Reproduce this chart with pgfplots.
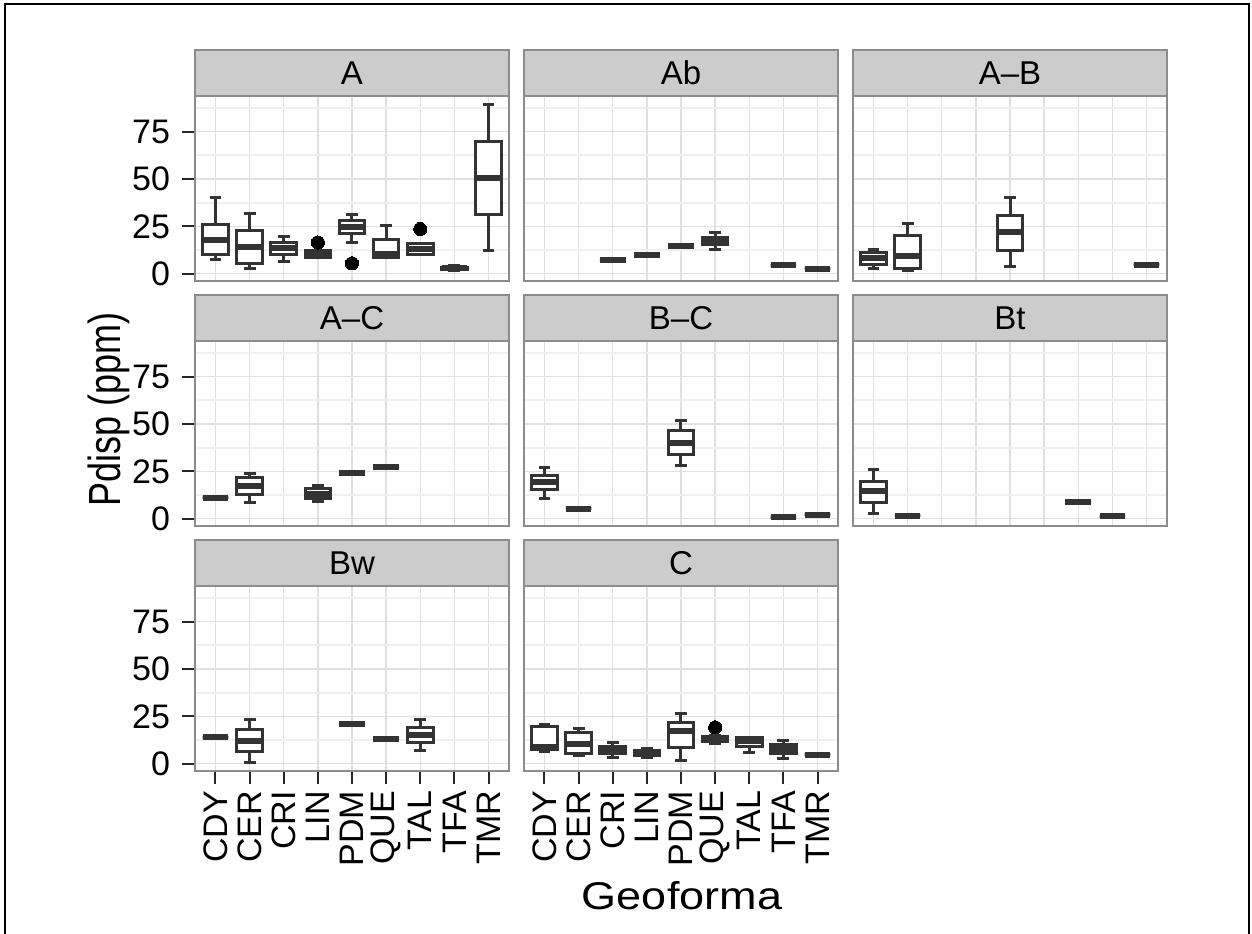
\documentclass[border=0pt]{standalone}
\usepackage{fontspec}
\setmainfont{Liberation Sans}
\usepackage{graphicx}
\usepackage{pgfplots}
\pgfplotsset{compat=1.18}
\usepgfplotslibrary{statistics}
\definecolor{stripfill}{HTML}{CCCCCC}
\definecolor{panelborder}{HTML}{8C8C8C}
\definecolor{gridmaj}{HTML}{E0E0E0}
\definecolor{gridmin}{HTML}{F0F0F0}
\definecolor{boxc}{HTML}{333333}
\newcommand\ticksize{\fontsize{17}{20}\selectfont}
\newcommand\stripsize{\fontsize{16.5}{19}\selectfont}
\newcommand\titlesize{\fontsize{22.5}{26}\selectfont}
\pgfplotsset{
  every axis title shift=0pt,
  panel/.style={
    scale only axis, width=157pt, height=92.15pt,
    xmin=0.4, xmax=9.6, ymin=-3.8, ymax=93.5,
    xtick={1,2,3,4,5,6,7,8,9},
    xticklabels={CDY,CER,CRI,LIN,PDM,QUE,TAL,TFA,TMR},
    ytick={0,25,50,75}, minor ytick={12.5,37.5,62.5,87.5},
    xtick pos=bottom, ytick pos=left,
    xmajorgrids, ymajorgrids, yminorgrids,
    major grid style={color=gridmaj, line width=0.7pt},
    minor grid style={color=gridmin, line width=0.9pt},
    axis line style={color=panelborder, line width=0.75pt},
    tick align=outside, major tick length=6.5pt, minor tick length=0pt,
    tick style={color=black!85, line width=1pt},
    ticklabel style={font=\ticksize, text=black},
    xticklabel style={rotate=90, anchor=east},
    yticklabel style={xshift=-2.5pt},
    /pgf/number format/assume math mode=true,
    title style={at={(0.5,1)}, anchor=south, draw=panelborder, line width=0.75pt,
      fill=stripfill, minimum width=157pt, minimum height=23pt, inner sep=0pt,
      font=\stripsize},
    boxplot/draw direction=y,
    boxplot/box extend=0.75,
    boxplot/whisker extend=0.35,
    boxplot/every box/.style={draw=boxc, line width=1.5pt, fill=white},
    boxplot/every whisker/.style={draw=boxc, line width=1.5pt},
    boxplot/every median/.style={draw=boxc, line width=3pt},
  },
  noxlab/.style={xticklabels={}, xtick style={draw=none}},
  noylab/.style={yticklabels={}, ytick style={draw=none}},
  bpst/.style={mark=*, mark size=3.3pt, mark options={fill=black, draw=black, line width=0pt}},
}
% box: position, lower whisker, lower quartile, median, upper quartile, upper whisker
\newcommand\bp[6]{\addplot[bpst, boxplot prepared={draw position=#1, lower whisker=#2,
  lower quartile=#3, median=#4, upper quartile=#5, upper whisker=#6}] coordinates {};}
\newcommand\bpo[7]{\addplot[bpst, boxplot prepared={draw position=#1, lower whisker=#2,
  lower quartile=#3, median=#4, upper quartile=#5, upper whisker=#6}] coordinates {(#1,#7)};}
\begin{document}
\begin{tikzpicture}
\useasboundingbox (0pt,0pt) rectangle (626pt,-466.5pt);
\draw[line width=1pt, black] (2.5pt,-470pt) -- (2.5pt,-2pt) -- (624.5pt,-2pt) -- (624.5pt,-470pt);
% Row 1
\begin{axis}[panel, noxlab, title={A}, at={(97.5pt,-48.3pt)}, anchor=north west]
\bp{1}{7.4}{10}{17.8}{25.9}{40}
\bp{2}{2.5}{5.4}{13.9}{22.7}{31.9}
\bp{3}{6.3}{9.9}{13.6}{16.5}{19.9}
\bpo{4}{8.6}{8.6}{10.6}{12.5}{12.5}{16.5}
\bpo{5}{16.5}{21}{24.5}{28}{31.5}{5.5}
\bp{6}{8.6}{8.6}{10.4}{18}{25.4}
\bpo{7}{10}{10}{13}{15.7}{15.7}{23.6}
\bp{8}{1.8}{2.4}{3}{3.4}{4.2}
\bp{9}{12.5}{31.2}{50.6}{69.9}{89.3}
\end{axis}
\begin{axis}[panel, noxlab, noylab, title={Ab}, at={(262pt,-48.3pt)}, anchor=north west]
\bp{3}{7}{7}{7}{7}{7}
\bp{4}{9.7}{9.7}{9.7}{9.7}{9.7}
\bp{5}{14.6}{14.6}{14.6}{14.6}{14.6}
\bp{6}{13}{15.3}{17.2}{19.2}{21.8}
\bp{8}{4.6}{4.6}{4.6}{4.6}{4.6}
\bp{9}{2.5}{2.5}{2.5}{2.5}{2.5}
\end{axis}
\begin{axis}[panel, noxlab, noylab, title={A--B}, at={(426.5pt,-48.3pt)}, anchor=north west]
\bp{1}{3}{5.1}{8.1}{11.3}{13}
\bp{2}{1.6}{2.5}{9.5}{20.1}{26.6}
\bp{5}{3.7}{12.2}{21.8}{30.7}{40}
\bp{9}{4.8}{4.8}{4.8}{4.8}{4.8}
\end{axis}
% Row 2
\begin{axis}[panel, noxlab, title={A--C}, at={(97.5pt,-170.8pt)}, anchor=north west]
\bp{1}{11}{11}{11}{11}{11}
\bp{2}{8.7}{12.8}{17.5}{21.9}{24}
\bp{4}{9.3}{10.5}{13.2}{15.8}{17.4}
\bp{5}{24}{24}{24}{24}{24}
\bp{6}{27.2}{27.2}{27.2}{27.2}{27.2}
\end{axis}
\begin{axis}[panel, noxlab, noylab, title={B--C}, at={(262pt,-170.8pt)}, anchor=north west]
\bp{1}{10.8}{15.3}{19.3}{22.8}{27.2}
\bp{2}{5.3}{5.3}{5.3}{5.3}{5.3}
\bp{5}{28}{33.8}{40}{46.5}{52.1}
\bp{8}{0.9}{0.9}{0.9}{0.9}{0.9}
\bp{9}{2.1}{2.1}{2.1}{2.1}{2.1}
\end{axis}
\begin{axis}[panel, noxlab, noylab, title={Bt}, at={(426.5pt,-170.8pt)}, anchor=north west]
\bp{1}{3}{8.7}{14.5}{19.8}{25.8}
\bp{2}{1.7}{1.7}{1.7}{1.7}{1.7}
\bp{7}{8.7}{8.7}{8.7}{8.7}{8.7}
\bp{8}{1.2}{1.2}{1.2}{1.2}{1.2}
\end{axis}
% Row 3
\begin{axis}[panel, title={Bw}, at={(97.5pt,-293.3pt)}, anchor=north west]
\bp{1}{14}{14}{14}{14}{14}
\bp{2}{0.8}{6.5}{12.2}{18}{23.3}
\bp{5}{21}{21}{21}{21}{21}
\bp{6}{13.1}{13.1}{13.1}{13.1}{13.1}
\bp{7}{7}{11}{15.2}{19.2}{23.1}
\end{axis}
\begin{axis}[panel, noylab, title={C}, at={(262pt,-293.3pt)}, anchor=north west]
\bp{1}{6.5}{7.5}{9}{19.8}{20.5}
\bp{2}{4.4}{5.2}{10.5}{16.6}{18.4}
\bp{3}{3.5}{5.2}{7.5}{9.2}{11.3}
\bp{4}{3.5}{4.3}{5.6}{7}{7.8}
\bp{5}{1.7}{8.7}{17.5}{21.8}{26.6}
\bpo{6}{10.5}{11.5}{13.1}{14.5}{15}{19.2}
\bp{7}{6.1}{9.2}{11.9}{14}{14}
\bp{8}{2.9}{5.2}{7.9}{10}{12.2}
\bp{9}{4.7}{4.7}{4.7}{4.7}{4.7}
\end{axis}
\node[rotate=90, font=\titlesize] at (54.25pt,-204.75pt) {\scalebox{0.8}[1]{Pdisp (ppm)}};
\node[font=\titlesize] at (341pt,-448pt) {\scalebox{1}[0.86]{Geoforma}};
\end{tikzpicture}
\end{document}
